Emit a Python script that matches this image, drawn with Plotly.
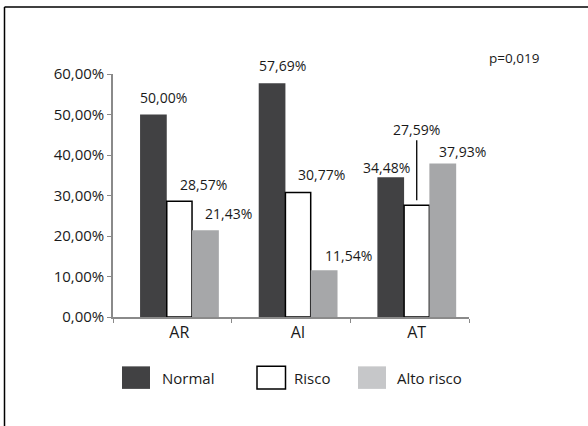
import plotly.graph_objects as go

categories = ["AR", "AI", "AT"]
series_names = ["Normal", "Risco", "Alto risco"]
normal = [50.00, 57.69, 34.48]
risco = [28.57, 30.77, 27.59]
alto_risco = [21.43, 11.54, 37.93]
y_tick_values = [0, 10, 20, 30, 40, 50, 60]
y_tick_labels = ["0,00%", "10,00%", "20,00%", "30,00%", "40,00%", "50,00%", "60,00%"]
p_value_text = "p=0,019"

W, H = 588, 426
PLOT_L, PLOT_R, PLOT_T, PLOT_B = 113, 469, 74, 316.7  # page pixels
ML = PLOT_L
MT = PLOT_T
MR = W - PLOT_R
MB = H - PLOT_B
PW, PH = W - ML - MR, H - MT - MB

def px_x(px):
    return (px - ML) / PW

def px_y(py):
    return (H - MB - py) / PH

FONT = "Open Sans"
DARK = "#414143"
GREY = "#a6a7a9"
LEG_GREY = "#c6c7c9"
TXT = "#1a1a1a"

series = [normal, risco, alto_risco]
fills = [DARK, "white", GREY]
lines = [DARK, "black", GREY]
line_w = [0, 1.5, 0]
offsets = [-0.272, -0.047, 0.166]
widths = [0.225, 0.213, 0.226]

# label shifts in px (dx, dy) per series per category
label_shift = [
    [(10.5, 17), (10.5, 18), (-4.5, 9.5)],
    [(24, 17), (23, 18), (0, 76)],
    [(23, 17), (24.5, 15), (20, 12)],
]

fig = go.Figure()
for i, (name, vals) in enumerate(zip(series_names, series)):
    fig.add_trace(go.Bar(
        x=categories, y=vals, name=name,
        marker=dict(color=fills[i], line=dict(color=lines[i], width=line_w[i])),
        width=[widths[i]] * len(categories),
        offset=[offsets[i]] * len(categories),
        showlegend=False, hoverinfo="skip",
    ))

annotations = []
for i, vals in enumerate(series):
    for j, v in enumerate(vals):
        cx = j + offsets[i] + widths[i] / 2
        dx, dy = label_shift[i][j]
        txt = f"{v:.2f}".replace(".", ",") + "%"
        if dy > 50:
            annotations.append(dict(
                x=cx, y=v, xref="x", yref="y", text=txt, showarrow=True,
                arrowhead=0, arrowwidth=1.3, arrowcolor="black", ax=dx, ay=-dy,
                standoff=5, font=dict(family=FONT, size=14, color=TXT),
            ))
        else:
            annotations.append(dict(
                x=cx, y=v, xref="x", yref="y", text=txt, showarrow=False,
                xshift=dx, yshift=dy, xanchor="center", yanchor="middle",
                font=dict(family=FONT, size=14, color=TXT),
            ))

annotations.append(dict(
    x=px_x(514), y=px_y(58), xref="paper", yref="paper", text=p_value_text,
    showarrow=False, xanchor="center", yanchor="middle",
    font=dict(family=FONT, size=13.5, color=TXT),
))

# custom legend
shapes = []
leg_boxes = [(122, 150), (257, 285.5), (358, 386)]
leg_text_x = [160, 291.5, 395]
leg_fill = [DARK, "white", LEG_GREY]
leg_line = [DARK, "black", LEG_GREY]
for k, name in enumerate(series_names):
    x0, x1 = leg_boxes[k]
    shapes.append(dict(
        type="rect", xref="paper", yref="paper",
        x0=px_x(x0), x1=px_x(x1), y0=px_y(388.5), y1=px_y(366),
        fillcolor=leg_fill[k], line=dict(color=leg_line[k], width=1.5 if k == 1 else 0),
    ))
    annotations.append(dict(
        x=px_x(leg_text_x[k]), y=px_y(378), xref="paper", yref="paper",
        text=name, showarrow=False, xanchor="left", yanchor="middle",
        font=dict(family=FONT, size=15, color=TXT),
    ))

# outer frame (left and top edges)
shapes.append(dict(type="line", xref="paper", yref="paper",
                   x0=px_x(4.5), x1=px_x(4.5), y0=px_y(7), y1=px_y(440),
                   line=dict(color="black", width=1.5)))
shapes.append(dict(type="line", xref="paper", yref="paper",
                   x0=px_x(4.5), x1=px_x(600), y0=px_y(7), y1=px_y(7),
                   line=dict(color="black", width=1.5)))

fig.update_layout(
    width=W, height=H,
    margin=dict(l=ML, r=MR, t=MT, b=MB, pad=0),
    paper_bgcolor="white", plot_bgcolor="white",
    barmode="overlay",
    annotations=annotations, shapes=shapes,
    font=dict(family=FONT, color=TXT),
    xaxis=dict(
        type="category", range=[-0.5, 2.5], showgrid=False, zeroline=False,
        showline=True, linecolor="#8a8a8a", linewidth=1.5,
        ticks="outside", tickson="boundaries", ticklen=4, tickcolor="#8a8a8a", tickwidth=1.2,
        tickfont=dict(family=FONT, size=16, color=TXT), ticklabelshift=7,
    ),
    yaxis=dict(
        range=[0, 60], showgrid=False, zeroline=False,
        showline=True, linecolor="#8a8a8a", linewidth=1.5,
        ticks="outside", ticklen=4, tickcolor="#8a8a8a", tickwidth=1.2,
        tickvals=y_tick_values, ticktext=y_tick_labels,
        tickfont=dict(family=FONT, size=15, color=TXT),
    ),
)

fig.write_html("out.html", config={"displayModeBar": False},
               post_script="document.body.style.margin='0';")
